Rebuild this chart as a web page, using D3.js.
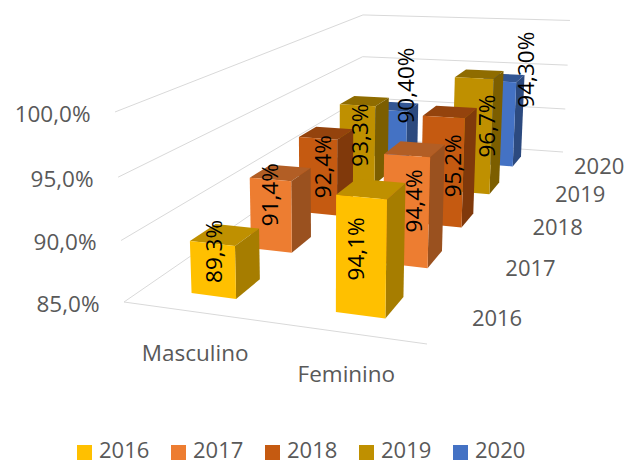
<!DOCTYPE html>
<html>
<head>
<meta charset="utf-8">
<script src="https://cdn.jsdelivr.net/npm/d3@7"></script>
<style>
  html, body { margin: 0; padding: 0; background: #fff; }
  text { font-family: "Open Sans", sans-serif; }
</style>
</head>
<body>
<div id="chart"></div>
<script>
var categories = ["Masculino", "Feminino"];
var years = ["2016", "2017", "2018", "2019", "2020"];
var masculino = [89.3, 91.4, 92.4, 93.3, 90.4];
var feminino = [94.1, 94.4, 95.2, 96.7, 94.3];
var labelsMasculino = ["89,3%", "91,4%", "92,4%", "93,3%", "90,40%"];
var labelsFeminino = ["94,1%", "94,4%", "95,2%", "96,7%", "94,30%"];
var valueTicks = [85, 90, 95, 100];

var colors = {
  "2016": ["#FFC000", "#BF9000", "#A67D00"],
  "2017": ["#ED7D31", "#B25E25", "#9A511F"],
  "2018": ["#C55A11", "#94430D", "#80390B"],
  "2019": ["#BF9000", "#8F6C00", "#7C5E00"],
  "2020": ["#4472C4", "#335693", "#2C4A7F"]
};

// hand placed labels were moved around in the original, so nudge them in px
var labelNudge = {
  "Masculino2016": [2, 2], "Feminino2016": [-5, 3],
  "Masculino2017": [-1, -6], "Feminino2017": [8, -1],
  "Masculino2018": [5, 2], "Feminino2018": [11, 1],
  "Masculino2019": [3, 0], "Feminino2019": [15, -6],
  "Masculino2020": [15, -8], "Feminino2020": [27, 2]
};

var svg = d3.select("#chart").append("svg")
  .attr("width", 630)
  .attr("height", 464);

// floor of the 3d box on screen: front left, front right, back right, back left
var floor = [[124, 302], [427, 344], [563, 152], [362, 138]];
var vanish = [327, 4600]; // the verticals meet down here
var lift = -0.04234;

var dx1 = floor[1][0] - floor[2][0], dx2 = floor[3][0] - floor[2][0];
var dy1 = floor[1][1] - floor[2][1], dy2 = floor[3][1] - floor[2][1];
var sx = floor[0][0] - floor[1][0] + floor[2][0] - floor[3][0];
var sy = floor[0][1] - floor[1][1] + floor[2][1] - floor[3][1];
var det = dx1 * dy2 - dx2 * dy1;
var g = (sx * dy2 - dx2 * sy) / det;
var h = (dx1 * sy - sx * dy1) / det;
var a = floor[1][0] - floor[0][0] + g * floor[1][0];
var b = floor[3][0] - floor[0][0] + h * floor[3][0];
var d_ = floor[1][1] - floor[0][1] + g * floor[1][1];
var e = floor[3][1] - floor[0][1] + h * floor[3][1];

function project(u, v, z) {
  var w = g * u + h * v + 1 + z * lift;
  return [
    (a * u + b * v + floor[0][0] + z * lift * vanish[0]) / w,
    (d_ * u + e * v + floor[0][1] + z * lift * vanish[1]) / w
  ];
}

var zScale = d3.scaleLinear().domain([85, 100]).range([0, 1]);
var uScale = d3.scaleBand().domain(categories).range([0, 1]).paddingInner(0.68).paddingOuter(0.34);
var vScale = d3.scaleBand().domain(years).range([0, 1]).paddingInner(0.6).paddingOuter(0.3);

var grid = svg.append("g").attr("fill", "none").attr("stroke", "#D9D9D9").attr("stroke-width", 1);
var line = d3.line();
valueTicks.forEach(function(t) {
  var z = zScale(t);
  grid.append("path").attr("d", line([project(0, 0, z), project(0, 1, z), project(1, 1, z)]));
});
grid.append("path").attr("d", line([project(0, 0, 0), project(1, 0, 0)]));

valueTicks.forEach(function(t) {
  var p = project(0, 0, zScale(t));
  svg.append("text")
    .attr("x", p[0] - 24.5)
    .attr("y", p[1] + 10)
    .attr("text-anchor", "end")
    .attr("font-size", 22.5)
    .attr("fill", "#595959")
    .text(d3.format(".1f")(t).replace(".", ",") + "%");
});

// back rows first so the front bars paint over them
var bars = [];
years.slice().reverse().forEach(function(year) {
  var i = years.indexOf(year);
  bars.push({ cat: "Masculino", year: year, value: masculino[i], label: labelsMasculino[i] });
  bars.push({ cat: "Feminino", year: year, value: feminino[i], label: labelsFeminino[i] });
});

function poly(points, fill) {
  svg.append("path").attr("d", line(points) + "Z").attr("fill", fill);
}

bars.forEach(function(d) {
  var u0 = uScale(d.cat), u1 = u0 + uScale.bandwidth();
  var v0 = vScale(d.year), v1 = v0 + vScale.bandwidth();
  var z = zScale(d.value);
  var c = colors[d.year];
  poly([project(u0, v0, z), project(u1, v0, z), project(u1, v1, z), project(u0, v1, z)], c[1]);
  poly([project(u1, v0, 0), project(u1, v1, 0), project(u1, v1, z), project(u1, v0, z)], c[2]);
  poly([project(u0, v0, 0), project(u1, v0, 0), project(u1, v0, z), project(u0, v0, z)], c[0]);
});

// labels go on top of every bar
bars.forEach(function(d) {
  var u = uScale(d.cat) + uScale.bandwidth() / 2;
  var v = vScale(d.year);
  var zl = 0.16 + 0.33 * zScale(d.value);
  if (d.year == "2020") zl = zScale(d.value) + (d.cat == "Masculino" ? 0.13 : 0.1);
  var p = project(u, v, zl);
  var n = labelNudge[d.cat + d.year];
  svg.append("text")
    .attr("transform", "translate(" + (p[0] + 8 + n[0]) + "," + (p[1] + n[1]) + ") rotate(-90)")
    .attr("text-anchor", "middle")
    .attr("font-size", 22.5)
    .attr("fill", "#000")
    .text(d.label);
});

categories.forEach(function(cat) {
  var p = project(uScale(cat) + uScale.bandwidth() / 2, 0, 0);
  svg.append("text")
    .attr("x", p[0] + 1.5)
    .attr("y", p[1] + 49)
    .attr("text-anchor", "middle")
    .attr("font-size", 22.5)
    .attr("fill", "#595959")
    .text(cat);
});

years.forEach(function(year) {
  var v = vScale(year) + vScale.bandwidth() / 2;
  var p = project(1.1, v, 0);
  svg.append("text")
    .attr("x", p[0] + 16 + 7 * v)
    .attr("y", p[1] + 8)
    .attr("text-anchor", "middle")
    .attr("font-size", 22)
    .attr("fill", "#595959")
    .text(year);
});

var legendX = d3.scalePoint().domain(years).range([77, 453]);
years.forEach(function(year) {
  svg.append("rect")
    .attr("x", legendX(year))
    .attr("y", 445)
    .attr("width", 15)
    .attr("height", 15)
    .attr("fill", colors[year][0]);
  svg.append("text")
    .attr("x", legendX(year) + 22)
    .attr("y", 457.5)
    .attr("font-size", 22)
    .attr("fill", "#595959")
    .text(year);
});
</script>
</body>
</html>
